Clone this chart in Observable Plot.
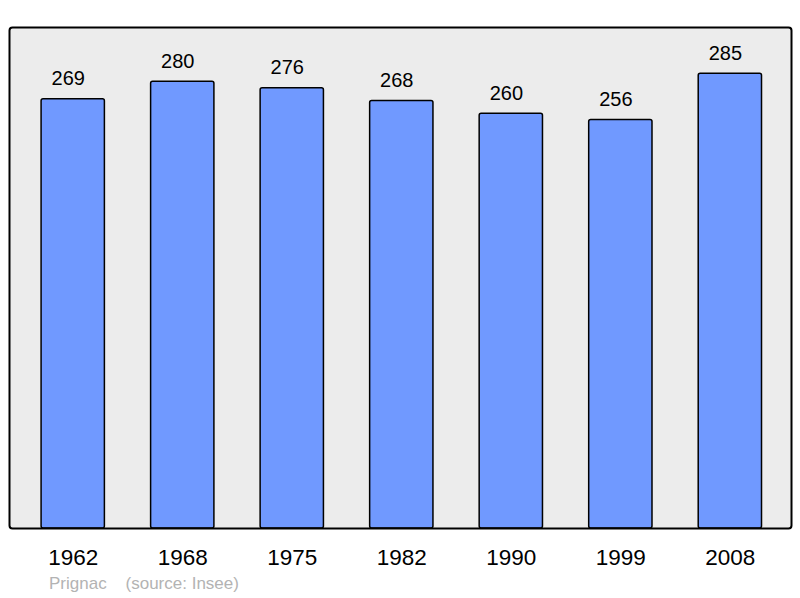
<!DOCTYPE html>
<html>
<head>
<meta charset="utf-8">
<script src="https://cdn.jsdelivr.net/npm/d3@7"></script>
<script src="https://cdn.jsdelivr.net/npm/@observablehq/plot@0.6"></script>
<style>
  html, body { margin: 0; padding: 0; background: #ffffff; }
  #wrap { position: relative; width: 800px; height: 598px; font-family: "Liberation Sans", Arial, sans-serif; }
  #caption { position: absolute; left: 49px; top: 575px; font-size: 17px; line-height: 17px; color: #b3b3b3; white-space: pre; }
</style>
</head>
<body>
<div id="wrap"><div id="chart"></div><div id="caption"></div></div>
<script>
const years = ["1962", "1968", "1975", "1982", "1990", "1999", "2008"];
const population = [269, 280, 276, 268, 260, 256, 285];
const commune = "Prignac";
const source = "(source: Insee)";

const data = years.map((year, i) => ({year, pop: population[i]}));

const chart = Plot.plot({
  width: 800,
  height: 570,
  marginTop: 27,
  marginBottom: 42,
  marginLeft: 9,
  marginRight: 9,
  style: {fontFamily: "'Liberation Sans', Arial, sans-serif", background: "transparent", overflow: "visible"},
  x: {type: "band", domain: years, range: [10.2, 792.4], round: false, paddingInner: 0.422, paddingOuter: 0.282, label: null},
  y: {domain: [0, 314], axis: null},
  marks: [
    Plot.frame({fill: "#ececec"}),
    Plot.barY(data, {x: "year", y: "pop", fill: "#7099ff", stroke: "#000000", strokeWidth: 1.5, rx: 2}),
    Plot.text(data, {x: "year", y: "pop", text: d => String(d.pop), lineAnchor: "bottom", dy: -14, dx: -5, fontSize: 20, fill: "#000000"}),
    Plot.frame({stroke: "#000000", strokeWidth: 2, rx: 3}),
    Plot.axisX({tickSize: 0, tickPadding: 21, fontSize: 22.5, fill: "#000000", label: null})
  ]
});
document.getElementById("chart").appendChild(chart);
document.getElementById("caption").textContent = commune + "    " + source;
</script>
</body>
</html>
